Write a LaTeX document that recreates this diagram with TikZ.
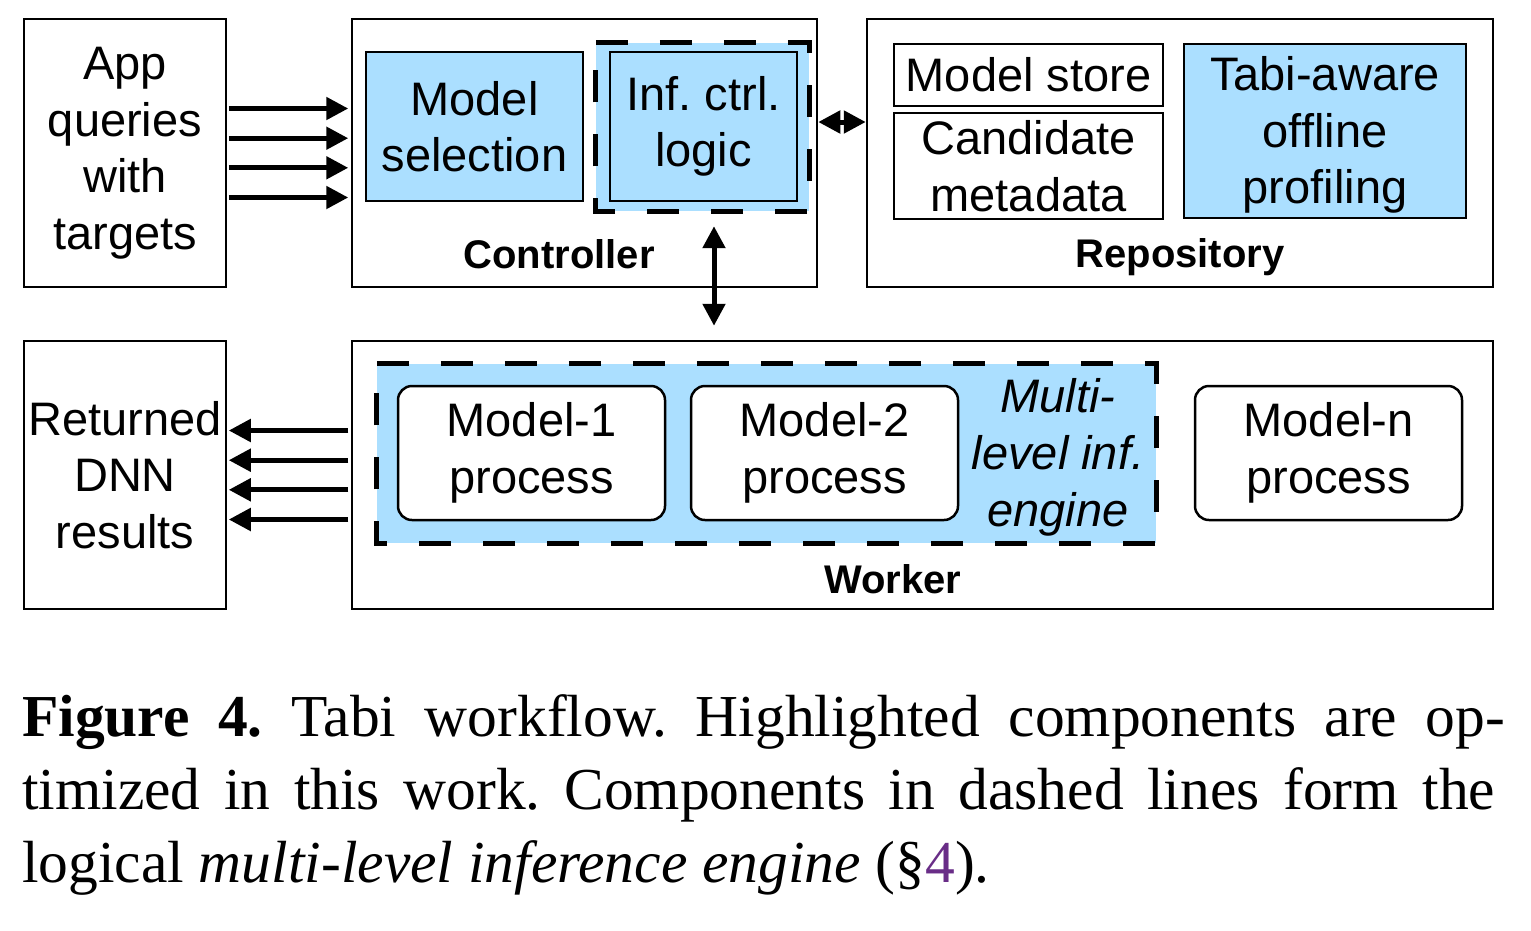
\documentclass[tikz,border=0pt]{standalone}
\usepackage{fontspec}
\setmainfont{Liberation Serif}
\newfontfamily\dia{Liberation Sans}
\usetikzlibrary{arrows.meta}
\definecolor{hl}{RGB}{171,223,255}
\definecolor{reflink}{RGB}{105,45,135}
\frenchspacing
\begin{document}
\begin{tikzpicture}[x=1pt,y=-1pt,
  box/.style={draw=black, line width=2.5pt, inner sep=0pt, align=center,
    font=\dia\fontsize{47}{56.5}\selectfont},
  hlbox/.style={box, fill=hl},
  rbox/.style={box, fill=white, rounded corners=14pt},
  zone/.style={fill=hl, inner sep=0pt},
  dashline/.style={line width=5pt, dash pattern=on 32pt off 32pt},
  lbl/.style={font=\dia\bfseries\fontsize{40}{48}\selectfont, inner sep=0pt, anchor=base},
  tip/.tip={Triangle[length=22pt,width=22pt]},
  arr/.style={line width=5pt, -tip},
  darr/.style={line width=5pt, tip-tip},
  captext/.style={anchor=base west, inner sep=0pt, font=\fontsize{59.5}{73}\selectfont}
]
\useasboundingbox (0,0) rectangle (1531,930);

% ---- top row
\node[box, minimum width=202pt, minimum height=268pt] (app) at (125,153) {\raisebox{0pt}[\height][\depth]{}App\\queries\\with\\targets};

\node[box, minimum width=465pt, minimum height=268pt] (ctrl) at (584.5,153) {};
\node[zone, minimum width=213pt, minimum height=168pt] (infz) at (702.5,127) {};
\node[hlbox, minimum width=217pt, minimum height=149pt] (msel) at (474.5,126.5) {Model\\selection};
\node[hlbox, minimum width=187pt, minimum height=149pt] (infc) at (703.5,126.5) {Inf. ctrl.\\logic};
\draw[dashline] (infz.north west) -- (infz.north east) -- (infz.south east) -- (infz.south west) -- cycle;
\node[lbl] (ctrllbl) at (559,268) {Controller};

\node[box, minimum width=626pt, minimum height=268pt] (repo) at (1180,153) {};
\node[box, minimum width=269pt, minimum height=62pt] (mstore) at (1028.5,75) {Model store};
\node[box, minimum width=269pt, minimum height=106pt] (cand) at (1028.5,166) {Candidate\\metadata};
\node[hlbox, minimum width=282pt, minimum height=174pt] (tabi) at (1325,131) {};
\node[inner sep=0pt, align=center, font=\dia\fontsize{47}{56.5}\selectfont] (tabit) at (1325,135) {Tabi-aware\\offline\\profiling};
\node[lbl] (repolbl) at (1180,267) {Repository};

% ---- bottom row
\node[box, minimum width=202pt, minimum height=268pt] (ret) at (125,475) {Returned\\DNN\\results};

\node[box, minimum width=1141pt, minimum height=268pt] (worker) at (922.5,475) {};
\node[zone, minimum width=779pt, minimum height=179pt] (wz) at (766.5,453.5) {};
\node[rbox, minimum width=267pt, minimum height=134pt] (m1) at (531.5,453) {Model-1\\process};
\node[rbox, minimum width=267pt, minimum height=134pt] (m2) at (824.5,453) {Model-2\\process};
\node[inner sep=0pt, align=center, font=\dia\itshape\fontsize{47}{57}\selectfont] (mle) at (1058,457) {Multi-\\level inf.\\engine};
\draw[dashline] (wz.north west) -- (wz.north east) -- (wz.south east) -- (wz.south west) -- cycle;
\node[rbox, minimum width=267pt, minimum height=134pt] (mn) at (1328.5,453) {Model-n\\process};
\node[lbl] (wlbl) at (893,593) {Worker};

% ---- connectors
\foreach \dy in {44.5,14.8,-14.8,-44.5}{
  \draw[arr, shorten <=1.5pt, shorten >=2.5pt] ([yshift=\dy pt]app.east) -- ([yshift=\dy pt]ctrl.west);
  \draw[arr, shorten <=2.5pt, shorten >=1.5pt] ([yshift=\dy pt]worker.west) -- ([yshift=\dy pt]ret.east);
}
\draw[darr] ([yshift=31pt]ctrl.east) -- ([yshift=31pt]repo.west);
\draw[darr, shorten <=15pt, shorten >=14pt] ([xshift=11.5pt]infz.south) -- ([xshift=-208.5pt]worker.north);

% ---- caption
\node[captext] (c1) at (22,736) {\makebox[1483pt][s]{\textbf{Figure 4.} Tabi workflow. Highlighted components are op-}};
\node[captext] (c2) at (22,809) {\makebox[1473pt][s]{timized in this work. Components in dashed lines form the}};
\node[captext] (c3) at (22,882) {logical \textit{multi-level inference engine} (\S\textcolor{reflink}{4}).};
\end{tikzpicture}
\end{document}
